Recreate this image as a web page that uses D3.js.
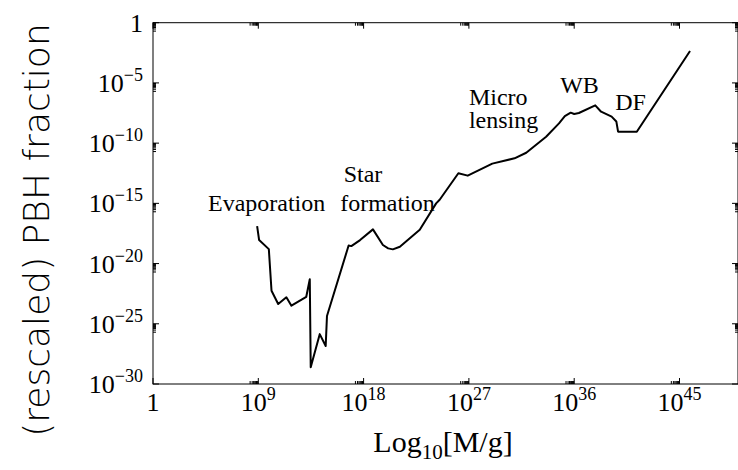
<!DOCTYPE html>
<html>
<head>
<meta charset="utf-8">
<script src="https://cdn.jsdelivr.net/npm/d3@7"></script>
<style>
  body { margin: 0; background: #fff; }
  text { fill: #000; }
</style>
</head>
<body>
<svg id="chart" width="738" height="470"></svg>
<script>
// log10 of mass in grams
const logMass = [8.9, 9.07, 9.9, 10.13, 10.7, 11.4, 11.83, 13.1, 13.4, 13.48, 14.25, 14.76, 14.87,
  16.72, 16.95, 17.7, 18.8, 19.65, 20.1, 20.5, 21.1, 22.8, 24.2, 24.5, 26.1, 26.9, 29.0, 30.9,
  31.9, 33.6, 34.7, 35.2, 35.7, 36.0, 36.4, 37.8, 38.3, 39.2, 39.6, 39.75, 41.35, 45.9];
// log10 of the (rescaled) PBH fraction
const logFraction = [-16.9, -18.05, -18.8, -22.26, -23.36, -22.8, -23.5, -22.76, -21.3, -28.6, -25.86, -26.85, -24.36,
  -18.5, -18.55, -18.05, -17.16, -18.46, -18.74, -18.82, -18.6, -17.2, -15.0, -14.7, -12.5, -12.7, -11.7, -11.26,
  -10.8, -9.47, -8.36, -7.75, -7.47, -7.58, -7.5, -6.86, -7.39, -7.8, -8.2, -9.05, -9.05, -2.35];

const xTicks = [0, 9, 18, 27, 36, 45];
const yTicks = [0, -5, -10, -15, -20, -25, -30];

const labels = [
  { text: 'Evaporation', x: 4.7, y: -15.6 },
  { text: 'Star', x: 16.3, y: -13.2 },
  { text: 'formation', x: 16.0, y: -15.6 },
  { text: 'Micro', x: 27.0, y: -6.8 },
  { text: 'lensing', x: 27.0, y: -8.75 },
  { text: 'WB', x: 34.8, y: -5.8 },
  { text: 'DF', x: 39.5, y: -7.25 },
];

const svg = d3.select('#chart');
const plotLeft = 153, plotRight = 738, plotTop = 22.7, plotBottom = 384;
const serif = '"Liberation Serif", "Times New Roman", serif';

const x = d3.scaleLinear().domain([0, 50]).range([plotLeft, plotRight]);
const y = d3.scaleLinear().domain([0, -30]).range([plotTop, plotBottom]);

// minor ticks sit in the decade just below each major tick
const minorOf = (ticks, lo, hi) => ticks.flatMap(v => d3.range(2, 10).map(k => v - 1 + Math.log10(k)))
  .filter(v => v >= lo && v <= hi);
const xMinor = minorOf(xTicks, 0, 50);
const yMinor = minorOf(yTicks, -30, 0);

const frame = svg.append('g').attr('stroke', '#000').attr('stroke-width', 1).attr('fill', 'none');
frame.append('rect')
  .attr('x', plotLeft).attr('y', plotTop)
  .attr('width', plotRight - plotLeft).attr('height', plotBottom - plotTop);

const xTickLines = (vals, len) => {
  vals.forEach(v => {
    frame.append('line').attr('x1', x(v)).attr('x2', x(v)).attr('y1', plotBottom).attr('y2', plotBottom - len);
    frame.append('line').attr('x1', x(v)).attr('x2', x(v)).attr('y1', plotTop).attr('y2', plotTop + len);
  });
};
const yTickLines = (vals, len) => {
  vals.forEach(v => {
    frame.append('line').attr('y1', y(v)).attr('y2', y(v)).attr('x1', plotLeft).attr('x2', plotLeft + len);
    frame.append('line').attr('y1', y(v)).attr('y2', y(v)).attr('x1', plotRight).attr('x2', plotRight - len);
  });
};
xTickLines(xTicks, 6);
xTickLines(xMinor, 3);
yTickLines(yTicks, 6);
yTickLines(yMinor, 3);

const powerLabel = (sel, exp) => {
  if (exp === 0) {
    sel.text('1');
    return;
  }
  sel.append('tspan').text('10');
  sel.append('tspan').attr('font-size', 18).attr('dy', -11).text(String(exp).replace('-', '\u2212'));
};

xTicks.forEach(v => {
  svg.append('text')
    .attr('x', x(v)).attr('y', plotBottom + 27)
    .attr('text-anchor', 'middle')
    .attr('font-family', serif).attr('font-size', 26)
    .call(powerLabel, v);
});

yTicks.forEach(v => {
  svg.append('text')
    .attr('x', 143).attr('y', y(v) + 9)
    .attr('text-anchor', 'end')
    .attr('font-family', serif).attr('font-size', 26)
    .call(powerLabel, v);
});

const line = d3.line().x(d => x(d[0])).y(d => y(d[1]));
svg.append('path')
  .datum(d3.zip(logMass, logFraction))
  .attr('d', line)
  .attr('fill', 'none')
  .attr('stroke', '#000')
  .attr('stroke-width', 2)
  .attr('stroke-linejoin', 'round');

labels.forEach(l => {
  svg.append('text')
    .attr('x', x(l.x)).attr('y', y(l.y))
    .attr('font-family', serif).attr('font-size', 24)
    .text(l.text);
});

const title = svg.append('text')
  .attr('x', 443).attr('y', 452)
  .attr('text-anchor', 'middle')
  .attr('font-family', serif).attr('font-size', 30);
title.append('tspan').text('Log');
title.append('tspan').attr('font-size', 21).attr('dy', 7).text('10');
title.append('tspan').attr('dy', -7).text('[M/g]');

svg.append('text')
  .attr('transform', 'translate(49,230) rotate(-90)')
  .attr('text-anchor', 'middle')
  .attr('font-family', '"DejaVu Sans", sans-serif')
  .attr('font-weight', 200)
  .attr('font-size', 36)
  .text('(rescaled) PBH fraction');
</script>
</body>
</html>
